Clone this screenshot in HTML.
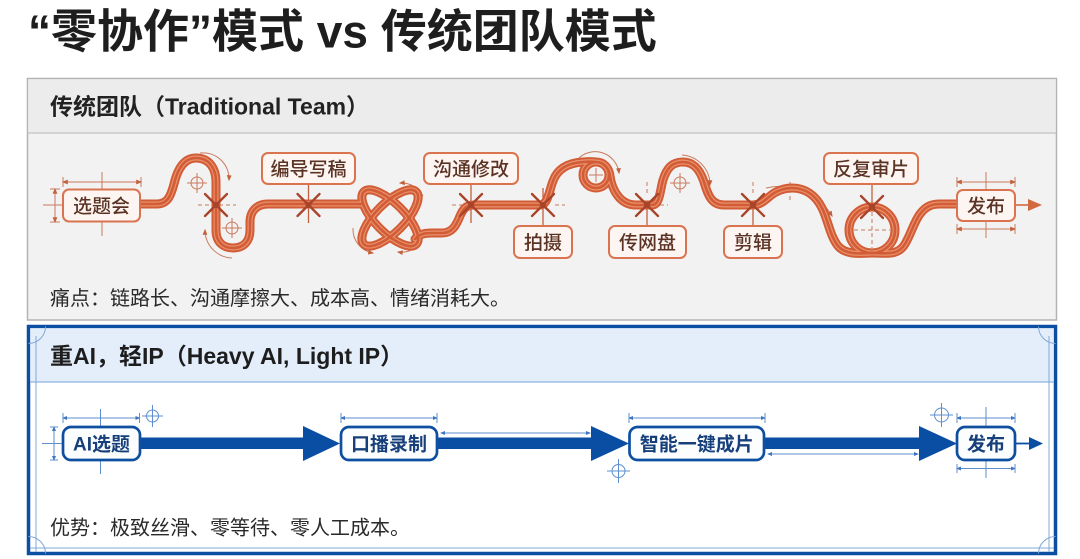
<!DOCTYPE html>
<html><head><meta charset="utf-8">
<style>
html,body{margin:0;padding:0;background:#fff;}
svg{display:block;}
text{font-family:"Liberation Sans","Noto Sans CJK SC",sans-serif;}
.t1{fill:none;stroke:#d25c35;stroke-width:9;stroke-linecap:round;stroke-linejoin:round}
.t2{fill:none;stroke:#e8906d;stroke-width:5;stroke-linecap:round;stroke-linejoin:round}
.t3{fill:none;stroke:#d25c35;stroke-width:2.6;stroke-linecap:round;stroke-linejoin:round}
.od{fill:none;stroke:#c97a5c;stroke-width:1}
.odash{fill:none;stroke:#c97a5c;stroke-width:1;stroke-dasharray:4 3}
.bd{fill:none;stroke:#5d8fcf;stroke-width:1}
.xm{stroke:#a8442a;stroke-width:2.3;stroke-linecap:round}
.ob{fill:#fcf5f1;stroke:#da7450;stroke-width:2}
.ot{font-size:19px;fill:#5b3325;font-weight:500;text-anchor:middle}
.bb{fill:#fbfdff;stroke:#0f4fa0;stroke-width:2.7}
.bt{font-size:19px;fill:#173f7a;font-weight:700;text-anchor:middle}
</style></head><body>
<svg width="1080" height="559" viewBox="0 0 1080 559" xmlns="http://www.w3.org/2000/svg">
<defs>
<marker id="ao" viewBox="0 0 10 10" refX="8" refY="5" markerWidth="6" markerHeight="6" orient="auto-start-reverse"><path d="M0,1 L10,5 L0,9 z" fill="#c4603c"/></marker>
<marker id="ab" viewBox="0 0 10 10" refX="8" refY="5" markerWidth="5" markerHeight="5" orient="auto-start-reverse"><path d="M0,1 L10,5 L0,9 z" fill="#3d77c0"/></marker>
<path id="p1" d="M140,204 H157 C168,204 171,195 174,184 C178,167 185,158 196,158 C209,158 216,168 216,182 V230 C216,242 223,248 233,248 C244,248 250,241 250,230 V222 C250,211 257,204 268,204 H362"/>
<path id="p2" d="M415,239 C420,234 424,233 432,233 H442 C452,233 456,226 460,216 C463,209 466,205 474,205 H540 C548,205 549,191 553,181 C557,170 566,163 583,162 C588,161.5 592,161.5 596,162 A13,13 0 1 1 596,188 A13,13 0 1 1 596,162 C604,162 609,168 610,176 C612,190 620,205 636,205 H652 C660,205 660,190 663,180 C667,167 673,162 683,162 C694,162 700,170 704,182 C708,196 712,205 724,205 H753 C763,205 768,196 776,192 C782,189 786,188 792,188 C806,188 816,196 822,208 C828,220 830,236 838,246 C845,254 856,254 872,253"/>
<path id="p3" d="M872,253 C886,253 898,256 905,244 C911,234 914,222 920,214 C926,206 932,204 940,204 H957"/>
<ellipse id="e1" cx="390" cy="218" rx="37" ry="14.5" transform="rotate(45 390 218)"/>
<ellipse id="e2" cx="390" cy="218" rx="37" ry="14.5" transform="rotate(-45 390 218)"/>
<circle id="c1" cx="872" cy="230" r="23"/>
</defs>

<!-- Title -->
<text x="28" y="47.5" font-size="46" font-weight="700" fill="#1e1e1e">“零协作”模式 vs 传统团队模式</text>

<!-- Top panel -->
<rect x="27.5" y="78.5" width="1029" height="241.5" fill="#f2f2f2" stroke="#b3b3b3" stroke-width="1.5"/>
<rect x="28.25" y="79.25" width="1027.5" height="53.5" fill="#ececec"/>
<line x1="27.5" y1="133" x2="1056.5" y2="133" stroke="#c2c2c2" stroke-width="1.2"/>
<text x="50" y="114.5" font-size="23" font-weight="700" fill="#222">传统团队（Traditional Team）</text>
<text x="50" y="305" font-size="20" fill="#2a2a2a">痛点：链路长、沟通摩擦大、成本高、情绪消耗大。</text>

<!-- orange annotations -->
<line class="od" x1="63" y1="182" x2="141" y2="182" marker-start="url(#ao)" marker-end="url(#ao)"/>
<line class="od" x1="63" y1="177" x2="63" y2="187"/><line class="od" x1="141" y1="177" x2="141" y2="187"/>
<line class="od" x1="102" y1="172" x2="102" y2="236"/>
<line class="od" x1="43" y1="205" x2="63" y2="205"/>
<line class="od" x1="55" y1="189" x2="55" y2="222" marker-start="url(#ao)" marker-end="url(#ao)"/>
<line class="od" x1="50" y1="189" x2="60" y2="189"/><line class="od" x1="50" y1="222" x2="60" y2="222"/>

<line class="od" x1="957" y1="182" x2="1015" y2="182" marker-start="url(#ao)" marker-end="url(#ao)"/>
<line class="od" x1="957" y1="177" x2="957" y2="187"/><line class="od" x1="1015" y1="177" x2="1015" y2="187"/>
<line class="od" x1="957" y1="229" x2="1015" y2="229" marker-start="url(#ao)" marker-end="url(#ao)"/>
<line class="od" x1="957" y1="224" x2="957" y2="234"/><line class="od" x1="1015" y1="224" x2="1015" y2="234"/>
<line class="od" x1="986" y1="172" x2="986" y2="238"/>
<line x1="1015" y1="205" x2="1030" y2="205" stroke="#d2693f" stroke-width="1.6"/>
<polygon points="1028,199 1042,205 1028,211" fill="#d2693f"/>

<!-- targets -->
<g class="od">
<circle cx="197" cy="183" r="6"/><line x1="187" y1="183" x2="207" y2="183"/><line x1="197" y1="173" x2="197" y2="193"/>
<circle cx="232" cy="228" r="6"/><line x1="222" y1="228" x2="242" y2="228"/><line x1="232" y1="218" x2="232" y2="238"/>
<circle cx="680" cy="183" r="6"/><line x1="670" y1="183" x2="690" y2="183"/><line x1="680" y1="173" x2="680" y2="193"/>
</g>
<!-- dashed center lines -->
<line class="odash" x1="198" y1="205" x2="236" y2="205"/>
<line class="odash" x1="290" y1="205" x2="328" y2="205"/>
<line class="odash" x1="452" y1="205" x2="492" y2="205"/>
<line class="odash" x1="555" y1="205" x2="565" y2="205"/>
<line class="odash" x1="660" y1="205" x2="668" y2="205"/>
<line class="odash" x1="736" y1="205" x2="742" y2="205"/>
<line class="odash" x1="753" y1="182" x2="753" y2="196"/>
<line class="odash" x1="647" y1="182" x2="647" y2="196"/>
<line class="odash" x1="790" y1="182" x2="790" y2="200"/>

<!-- rotation arrows -->
<g class="od">
<path d="M200,153 A26,26 0 0 1 229,180" marker-end="url(#ao)"/>
<path d="M205,230 A28,28 0 0 0 232,258" marker-start="url(#ao)"/>
<path d="M400,183 A24,24 0 0 1 423,196" marker-start="url(#ao)"/>
<path d="M353,228 A24,24 0 0 0 373,253" marker-end="url(#ao)"/>
<path d="M398,252 A24,24 0 0 0 421,242" marker-start="url(#ao)"/>
<path d="M577,160 A24,24 0 0 1 619,173" marker-end="url(#ao)"/>
<path d="M682,155 A30,30 0 0 1 710,185" marker-end="url(#ao)"/>
<path d="M766,188 A60,60 0 0 1 832,216" marker-end="url(#ao)"/>
</g>

<!-- vertical connectors -->
<g stroke="#c4603c" stroke-width="1.3">
<line x1="308.5" y1="184" x2="308.5" y2="223"/>
<line x1="471" y1="184" x2="471" y2="223"/>
<line x1="543" y1="188" x2="543" y2="226"/>
<line x1="647" y1="205" x2="647" y2="226"/>
<line x1="753" y1="205" x2="753" y2="226"/>
<line x1="872" y1="184" x2="872" y2="206"/>
</g>

<!-- track -->
<g class="t1"><use href="#p1"/><use href="#e1"/><use href="#e2"/><use href="#p2"/><use href="#c1"/><use href="#p3"/></g>
<g class="t2"><use href="#p1"/><use href="#e1"/><use href="#e2"/><use href="#p2"/><use href="#c1"/><use href="#p3"/></g>
<g class="t3"><use href="#p1"/><use href="#e1"/><use href="#e2"/><use href="#p2"/><use href="#c1"/><use href="#p3"/></g>

<!-- inner markers over track -->
<g class="od">
<line x1="589" y1="175" x2="603" y2="175"/><line x1="596" y1="168" x2="596" y2="182"/>
</g>
<line class="odash" x1="854" y1="230" x2="890" y2="230"/>
<line class="odash" x1="872" y1="212" x2="872" y2="250"/>

<!-- X marks -->
<g class="xm">
<line x1="205" y1="194" x2="227" y2="216"/><line x1="205" y1="216" x2="227" y2="194"/>
<line x1="297.5" y1="194" x2="319.5" y2="216"/><line x1="297.5" y1="216" x2="319.5" y2="194"/>
<line x1="460" y1="194" x2="482" y2="216"/><line x1="460" y1="216" x2="482" y2="194"/>
<line x1="532" y1="194" x2="554" y2="216"/><line x1="532" y1="216" x2="554" y2="194"/>
<line x1="636" y1="194" x2="658" y2="216"/><line x1="636" y1="216" x2="658" y2="194"/>
<line x1="742" y1="194" x2="764" y2="216"/><line x1="742" y1="216" x2="764" y2="194"/>
<line x1="861" y1="196" x2="883" y2="218"/><line x1="861" y1="218" x2="883" y2="196"/>
</g>
<g fill="#a8442a">
<circle cx="216" cy="205" r="3"/><circle cx="308.5" cy="205" r="3"/><circle cx="471" cy="205" r="3"/><circle cx="543" cy="205" r="3"/><circle cx="647" cy="205" r="3"/><circle cx="753" cy="205" r="3"/><circle cx="872" cy="207" r="3"/>
</g>

<!-- orange boxes -->
<rect class="ob" x="63" y="189.5" width="77" height="32" rx="6"/>
<text class="ot" x="101.5" y="212.5">选题会</text>
<rect class="ob" x="262" y="153" width="93" height="31" rx="6"/>
<text class="ot" x="308.5" y="175.7">编导写稿</text>
<rect class="ob" x="424" y="153" width="94" height="31" rx="6"/>
<text class="ot" x="471" y="175.7">沟通修改</text>
<rect class="ob" x="514" y="226" width="58" height="32" rx="6"/>
<text class="ot" x="543" y="249.2">拍摄</text>
<rect class="ob" x="609" y="226" width="77" height="32" rx="6"/>
<text class="ot" x="647.5" y="249.2">传网盘</text>
<rect class="ob" x="724" y="226" width="58" height="32" rx="6"/>
<text class="ot" x="753" y="249.2">剪辑</text>
<rect class="ob" x="824" y="153" width="94" height="31" rx="6"/>
<text class="ot" x="871" y="175.7">反复审片</text>
<rect class="ob" x="957" y="190" width="58" height="31" rx="6"/>
<text class="ot" x="986" y="212.7">发布</text>

<!-- Blue panel -->
<rect x="28.5" y="326.5" width="1027" height="227" fill="#fff" stroke="#0b4ea2" stroke-width="3.5"/>
<rect x="30.25" y="328.25" width="1023.5" height="53.5" fill="#e3eefa"/>
<line x1="30" y1="382" x2="1054" y2="382" stroke="#8fb4e0" stroke-width="1.2"/>
<g stroke="#80a8d8" stroke-width="1" fill="none">
<line x1="36" y1="336" x2="36" y2="552"/>
<line x1="1049" y1="336" x2="1049" y2="552"/>
<line x1="30" y1="548" x2="1054" y2="548"/>
<path d="M28.5,343.5 A17,17 0 0 0 45.5,326.5"/>
<path d="M1038.5,326.5 A17,17 0 0 0 1055.5,343.5"/>
<path d="M28.5,536.5 A17,17 0 0 1 45.5,553.5"/>
<path d="M1038.5,553.5 A17,17 0 0 1 1055.5,536.5"/>
</g>
<text x="50" y="364" font-size="23" font-weight="700" fill="#1d1d1d">重AI，轻IP（Heavy AI, Light IP）</text>
<text x="50" y="534.5" font-size="20" fill="#2a2a2a">优势：极致丝滑、零等待、零人工成本。</text>

<!-- blue annotations -->
<line class="bd" x1="63" y1="418" x2="139.5" y2="418" marker-start="url(#ab)" marker-end="url(#ab)"/>
<line class="bd" x1="63" y1="413" x2="63" y2="423"/><line class="bd" x1="139.5" y1="413" x2="139.5" y2="423"/>
<line class="bd" x1="100.5" y1="409" x2="100.5" y2="474"/>
<line class="bd" x1="42" y1="443.5" x2="63" y2="443.5"/>
<line class="bd" x1="54" y1="427" x2="54" y2="460" marker-start="url(#ab)" marker-end="url(#ab)"/>
<line class="bd" x1="50" y1="427" x2="58" y2="427"/><line class="bd" x1="50" y1="460" x2="58" y2="460"/>
<circle class="bd" cx="152.5" cy="416" r="6"/><line class="bd" x1="142" y1="416" x2="163" y2="416"/><line class="bd" x1="152.5" y1="405" x2="152.5" y2="427"/>

<line class="bd" x1="341" y1="418" x2="437" y2="418" marker-start="url(#ab)" marker-end="url(#ab)"/>
<line class="bd" x1="341" y1="413" x2="341" y2="423"/><line class="bd" x1="437" y1="413" x2="437" y2="423"/>
<line class="bd" x1="441" y1="433" x2="590" y2="433" marker-start="url(#ab)" marker-end="url(#ab)"/>

<line class="bd" x1="629" y1="418" x2="765" y2="418" marker-start="url(#ab)" marker-end="url(#ab)"/>
<line class="bd" x1="629" y1="413" x2="629" y2="423"/><line class="bd" x1="765" y1="413" x2="765" y2="423"/>
<circle class="bd" cx="618.5" cy="471" r="6.5"/><line class="bd" x1="607" y1="471" x2="630" y2="471"/><line class="bd" x1="618.5" y1="459" x2="618.5" y2="483"/>
<line class="bd" x1="768" y1="454" x2="918" y2="454" marker-start="url(#ab)" marker-end="url(#ab)"/>
<circle class="bd" cx="941.5" cy="415" r="7"/><line class="bd" x1="930" y1="415" x2="953" y2="415"/><line class="bd" x1="941.5" y1="403" x2="941.5" y2="427"/>

<line class="bd" x1="957" y1="418" x2="1015" y2="418" marker-start="url(#ab)" marker-end="url(#ab)"/>
<line class="bd" x1="957" y1="413" x2="957" y2="423"/><line class="bd" x1="1015" y1="413" x2="1015" y2="423"/>
<line class="bd" x1="957" y1="468.5" x2="1015" y2="468.5" marker-start="url(#ab)" marker-end="url(#ab)"/>
<line class="bd" x1="957" y1="464" x2="957" y2="473"/><line class="bd" x1="1015" y1="464" x2="1015" y2="473"/>
<line class="bd" x1="986" y1="407" x2="986" y2="478"/>

<!-- blue arrows -->
<g fill="#0a4ea3">
<rect x="139" y="437.5" width="166" height="11.5"/>
<polygon points="303,426 340,443.5 303,461"/>
<rect x="436" y="437.5" width="157" height="11.5"/>
<polygon points="591,426 629,443.5 591,461"/>
<rect x="763" y="437.5" width="158" height="11.5"/>
<polygon points="919,426 957,443.5 919,461"/>
<polygon points="1029,437 1043,443.5 1029,450"/>
</g>
<line x1="1015" y1="443.5" x2="1031" y2="443.5" stroke="#0a4ea3" stroke-width="1.8"/>

<!-- blue boxes -->
<rect class="bb" x="63" y="427" width="77" height="33" rx="8"/>
<text class="bt" x="101.5" y="450.7">AI选题</text>
<rect class="bb" x="341" y="427" width="96" height="33" rx="8"/>
<text class="bt" x="389" y="450.7">口播录制</text>
<rect class="bb" x="629.5" y="427" width="134.5" height="33" rx="8"/>
<text class="bt" x="696.75" y="450.7">智能一键成片</text>
<rect class="bb" x="957" y="427" width="58" height="33" rx="8"/>
<text class="bt" x="986" y="450.7">发布</text>
</svg>
</body></html>
